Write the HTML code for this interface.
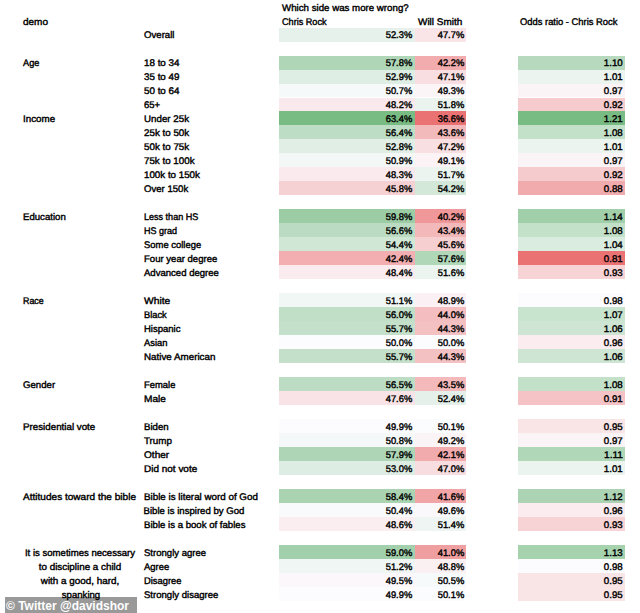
<!DOCTYPE html>
<html><head><meta charset="utf-8"><style>
html,body{margin:0;padding:0;background:#fff;}
body{width:640px;height:613px;position:relative;overflow:hidden;}
.c{position:absolute;height:13.98px;}
.t{position:absolute;font-family:"Liberation Sans",Arial,sans-serif;font-size:9.6px;line-height:13.98px;height:13.98px;padding-top:1.9px;color:#000;-webkit-text-stroke:0.4px #000;white-space:nowrap;text-rendering:geometricPrecision;}
.wm{position:absolute;left:5px;top:596.7px;width:132px;height:16px;background:rgba(0,0,0,0.4);}
.wmt{position:absolute;left:6px;top:597.5px;font-family:"Liberation Sans",Arial,sans-serif;font-weight:bold;font-size:12px;line-height:16px;color:#fff;white-space:nowrap;}
</style></head><body>
<div class="c" style="left:279.0px;width:135.5px;top:27.60px;background:#e5f1ea"></div>
<div class="c" style="left:414.5px;width:51.3px;top:27.60px;background:#f9e4e7"></div>
<div class="c" style="left:279.0px;width:135.5px;top:55.56px;background:#afd6b7"></div>
<div class="c" style="left:414.5px;width:51.3px;top:55.56px;background:#f2acae"></div>
<div class="c" style="left:518.0px;width:106.6px;top:55.56px;background:#b7dabe"></div>
<div class="c" style="left:279.0px;width:135.5px;top:69.54px;background:#dfeee4"></div>
<div class="c" style="left:414.5px;width:51.3px;top:69.54px;background:#f8dee1"></div>
<div class="c" style="left:518.0px;width:106.6px;top:69.54px;background:#ebf4ef"></div>
<div class="c" style="left:279.0px;width:135.5px;top:83.52px;background:#f5f9f9"></div>
<div class="c" style="left:414.5px;width:51.3px;top:83.52px;background:#fbf5f8"></div>
<div class="c" style="left:518.0px;width:106.6px;top:83.52px;background:#fbf4f7"></div>
<div class="c" style="left:279.0px;width:135.5px;top:97.50px;background:#fae9ec"></div>
<div class="c" style="left:414.5px;width:51.3px;top:97.50px;background:#eaf3ee"></div>
<div class="c" style="left:518.0px;width:106.6px;top:97.50px;background:#f6cbce"></div>
<div class="c" style="left:279.0px;width:135.5px;top:111.48px;background:#78bb83"></div>
<div class="c" style="left:414.5px;width:51.3px;top:111.48px;background:#ea7273"></div>
<div class="c" style="left:518.0px;width:106.6px;top:111.48px;background:#78bb83"></div>
<div class="c" style="left:279.0px;width:135.5px;top:125.46px;background:#bdddc4"></div>
<div class="c" style="left:414.5px;width:51.3px;top:125.46px;background:#f3babc"></div>
<div class="c" style="left:518.0px;width:106.6px;top:125.46px;background:#c3e0c9"></div>
<div class="c" style="left:279.0px;width:135.5px;top:139.44px;background:#e0eee5"></div>
<div class="c" style="left:414.5px;width:51.3px;top:139.44px;background:#f8dfe2"></div>
<div class="c" style="left:518.0px;width:106.6px;top:139.44px;background:#ebf4ef"></div>
<div class="c" style="left:279.0px;width:135.5px;top:153.42px;background:#f3f8f7"></div>
<div class="c" style="left:414.5px;width:51.3px;top:153.42px;background:#fbf3f6"></div>
<div class="c" style="left:518.0px;width:106.6px;top:153.42px;background:#fbf4f7"></div>
<div class="c" style="left:279.0px;width:135.5px;top:167.40px;background:#faeaed"></div>
<div class="c" style="left:414.5px;width:51.3px;top:167.40px;background:#ebf4ef"></div>
<div class="c" style="left:518.0px;width:106.6px;top:167.40px;background:#f6cbce"></div>
<div class="c" style="left:279.0px;width:135.5px;top:181.38px;background:#f6d1d3"></div>
<div class="c" style="left:414.5px;width:51.3px;top:181.38px;background:#d3e8d8"></div>
<div class="c" style="left:518.0px;width:106.6px;top:181.38px;background:#f1abad"></div>
<div class="c" style="left:279.0px;width:135.5px;top:209.34px;background:#9bcca4"></div>
<div class="c" style="left:414.5px;width:51.3px;top:209.34px;background:#ef9799"></div>
<div class="c" style="left:518.0px;width:106.6px;top:209.34px;background:#a0cfa9"></div>
<div class="c" style="left:279.0px;width:135.5px;top:223.32px;background:#bbdcc2"></div>
<div class="c" style="left:414.5px;width:51.3px;top:223.32px;background:#f3b8ba"></div>
<div class="c" style="left:518.0px;width:106.6px;top:223.32px;background:#c3e0c9"></div>
<div class="c" style="left:279.0px;width:135.5px;top:237.30px;background:#d1e7d6"></div>
<div class="c" style="left:414.5px;width:51.3px;top:237.30px;background:#f6cfd1"></div>
<div class="c" style="left:518.0px;width:106.6px;top:237.30px;background:#daebdf"></div>
<div class="c" style="left:279.0px;width:135.5px;top:251.28px;background:#f2aeb0"></div>
<div class="c" style="left:414.5px;width:51.3px;top:251.28px;background:#b1d7b9"></div>
<div class="c" style="left:518.0px;width:106.6px;top:251.28px;background:#ea7273"></div>
<div class="c" style="left:279.0px;width:135.5px;top:265.26px;background:#faecee"></div>
<div class="c" style="left:414.5px;width:51.3px;top:265.26px;background:#ecf4f0"></div>
<div class="c" style="left:518.0px;width:106.6px;top:265.26px;background:#f7d3d6"></div>
<div class="c" style="left:279.0px;width:135.5px;top:293.22px;background:#f1f7f5"></div>
<div class="c" style="left:414.5px;width:51.3px;top:293.22px;background:#fbf1f4"></div>
<div class="c" style="left:518.0px;width:106.6px;top:293.22px;background:#fcfcff"></div>
<div class="c" style="left:279.0px;width:135.5px;top:307.20px;background:#c1dfc7"></div>
<div class="c" style="left:414.5px;width:51.3px;top:307.20px;background:#f4bec0"></div>
<div class="c" style="left:518.0px;width:106.6px;top:307.20px;background:#c8e3ce"></div>
<div class="c" style="left:279.0px;width:135.5px;top:321.18px;background:#c4e0ca"></div>
<div class="c" style="left:414.5px;width:51.3px;top:321.18px;background:#f4c1c3"></div>
<div class="c" style="left:518.0px;width:106.6px;top:321.18px;background:#cee5d4"></div>
<div class="c" style="left:279.0px;width:135.5px;top:335.16px;background:#fcfcff"></div>
<div class="c" style="left:414.5px;width:51.3px;top:335.16px;background:#fcfcff"></div>
<div class="c" style="left:518.0px;width:106.6px;top:335.16px;background:#faecef"></div>
<div class="c" style="left:279.0px;width:135.5px;top:349.14px;background:#c4e0ca"></div>
<div class="c" style="left:414.5px;width:51.3px;top:349.14px;background:#f4c1c3"></div>
<div class="c" style="left:518.0px;width:106.6px;top:349.14px;background:#cee5d4"></div>
<div class="c" style="left:279.0px;width:135.5px;top:377.10px;background:#bcdcc3"></div>
<div class="c" style="left:414.5px;width:51.3px;top:377.10px;background:#f3b9bb"></div>
<div class="c" style="left:518.0px;width:106.6px;top:377.10px;background:#c3e0c9"></div>
<div class="c" style="left:279.0px;width:135.5px;top:391.08px;background:#f9e3e6"></div>
<div class="c" style="left:414.5px;width:51.3px;top:391.08px;background:#e4f0e9"></div>
<div class="c" style="left:518.0px;width:106.6px;top:391.08px;background:#f5c3c5"></div>
<div class="c" style="left:279.0px;width:135.5px;top:419.04px;background:#fcfbfe"></div>
<div class="c" style="left:414.5px;width:51.3px;top:419.04px;background:#fbfcfe"></div>
<div class="c" style="left:518.0px;width:106.6px;top:419.04px;background:#f9e4e6"></div>
<div class="c" style="left:279.0px;width:135.5px;top:433.02px;background:#f4f8f8"></div>
<div class="c" style="left:414.5px;width:51.3px;top:433.02px;background:#fbf4f7"></div>
<div class="c" style="left:518.0px;width:106.6px;top:433.02px;background:#fbf4f7"></div>
<div class="c" style="left:279.0px;width:135.5px;top:447.00px;background:#aed6b6"></div>
<div class="c" style="left:414.5px;width:51.3px;top:447.00px;background:#f1abac"></div>
<div class="c" style="left:518.0px;width:106.6px;top:447.00px;background:#b1d7b9"></div>
<div class="c" style="left:279.0px;width:135.5px;top:460.98px;background:#deede3"></div>
<div class="c" style="left:414.5px;width:51.3px;top:460.98px;background:#f8dde0"></div>
<div class="c" style="left:518.0px;width:106.6px;top:460.98px;background:#ebf4ef"></div>
<div class="c" style="left:279.0px;width:135.5px;top:488.94px;background:#a9d3b1"></div>
<div class="c" style="left:414.5px;width:51.3px;top:488.94px;background:#f1a5a7"></div>
<div class="c" style="left:518.0px;width:106.6px;top:488.94px;background:#acd4b4"></div>
<div class="c" style="left:279.0px;width:135.5px;top:502.92px;background:#f8fafb"></div>
<div class="c" style="left:414.5px;width:51.3px;top:502.92px;background:#fbf8fb"></div>
<div class="c" style="left:518.0px;width:106.6px;top:502.92px;background:#faecef"></div>
<div class="c" style="left:279.0px;width:135.5px;top:516.90px;background:#faeef0"></div>
<div class="c" style="left:414.5px;width:51.3px;top:516.90px;background:#eef5f2"></div>
<div class="c" style="left:518.0px;width:106.6px;top:516.90px;background:#f7d3d6"></div>
<div class="c" style="left:279.0px;width:135.5px;top:544.86px;background:#a3d0ac"></div>
<div class="c" style="left:414.5px;width:51.3px;top:544.86px;background:#f09fa1"></div>
<div class="c" style="left:518.0px;width:106.6px;top:544.86px;background:#a6d2ae"></div>
<div class="c" style="left:279.0px;width:135.5px;top:558.84px;background:#f0f6f4"></div>
<div class="c" style="left:414.5px;width:51.3px;top:558.84px;background:#faf0f2"></div>
<div class="c" style="left:518.0px;width:106.6px;top:558.84px;background:#fcfcff"></div>
<div class="c" style="left:279.0px;width:135.5px;top:572.82px;background:#fbf7fa"></div>
<div class="c" style="left:414.5px;width:51.3px;top:572.82px;background:#f7fafa"></div>
<div class="c" style="left:518.0px;width:106.6px;top:572.82px;background:#f9e4e6"></div>
<div class="c" style="left:279.0px;width:135.5px;top:586.80px;background:#fcfbfe"></div>
<div class="c" style="left:414.5px;width:51.3px;top:586.80px;background:#fbfcfe"></div>
<div class="c" style="left:518.0px;width:106.6px;top:586.80px;background:#f9e4e6"></div>
<div class="t" style="left:143.6px;top:27.60px;transform:scale(1.004,1.0);transform-origin:0 11px">Overall</div>
<div class="t" style="right:228.3px;top:27.60px;transform:scale(0.973,1.0);transform-origin:100% 11px">52.3%</div>
<div class="t" style="right:175.4px;top:27.60px;transform:scale(0.973,1.0);transform-origin:100% 11px">47.7%</div>
<div class="t" style="left:23.0px;top:55.56px;transform:scale(0.959,1.0);transform-origin:0 11px">Age</div>
<div class="t" style="left:143.6px;top:55.56px;transform:scale(1.023,1.0);transform-origin:0 11px">18 to 34</div>
<div class="t" style="right:228.3px;top:55.56px;transform:scale(0.973,1.0);transform-origin:100% 11px">57.8%</div>
<div class="t" style="right:175.4px;top:55.56px;transform:scale(0.973,1.0);transform-origin:100% 11px">42.2%</div>
<div class="t" style="right:17.4px;top:55.56px;transform:scale(1.011,1.0);transform-origin:100% 11px">1.10</div>
<div class="t" style="left:143.6px;top:69.54px;transform:scale(1.023,1.0);transform-origin:0 11px">35 to 49</div>
<div class="t" style="right:228.3px;top:69.54px;transform:scale(0.973,1.0);transform-origin:100% 11px">52.9%</div>
<div class="t" style="right:175.4px;top:69.54px;transform:scale(0.973,1.0);transform-origin:100% 11px">47.1%</div>
<div class="t" style="right:17.4px;top:69.54px;transform:scale(1.011,1.0);transform-origin:100% 11px">1.01</div>
<div class="t" style="left:143.6px;top:83.52px;transform:scale(1.023,1.0);transform-origin:0 11px">50 to 64</div>
<div class="t" style="right:228.3px;top:83.52px;transform:scale(0.973,1.0);transform-origin:100% 11px">50.7%</div>
<div class="t" style="right:175.4px;top:83.52px;transform:scale(0.973,1.0);transform-origin:100% 11px">49.3%</div>
<div class="t" style="right:17.4px;top:83.52px;transform:scale(1.011,1.0);transform-origin:100% 11px">0.97</div>
<div class="t" style="left:143.6px;top:97.50px;transform:scale(0.989,1.0);transform-origin:0 11px">65+</div>
<div class="t" style="right:228.3px;top:97.50px;transform:scale(0.973,1.0);transform-origin:100% 11px">48.2%</div>
<div class="t" style="right:175.4px;top:97.50px;transform:scale(0.973,1.0);transform-origin:100% 11px">51.8%</div>
<div class="t" style="right:17.4px;top:97.50px;transform:scale(1.011,1.0);transform-origin:100% 11px">0.92</div>
<div class="t" style="left:23.0px;top:111.48px;transform:scale(1.020,1.0);transform-origin:0 11px">Income</div>
<div class="t" style="left:143.6px;top:111.48px;transform:scale(1.018,1.0);transform-origin:0 11px">Under 25k</div>
<div class="t" style="right:228.3px;top:111.48px;transform:scale(0.973,1.0);transform-origin:100% 11px">63.4%</div>
<div class="t" style="right:175.4px;top:111.48px;transform:scale(0.973,1.0);transform-origin:100% 11px">36.6%</div>
<div class="t" style="right:17.4px;top:111.48px;transform:scale(1.011,1.0);transform-origin:100% 11px">1.21</div>
<div class="t" style="left:143.6px;top:125.46px;transform:scale(1.020,1.0);transform-origin:0 11px">25k to 50k</div>
<div class="t" style="right:228.3px;top:125.46px;transform:scale(0.973,1.0);transform-origin:100% 11px">56.4%</div>
<div class="t" style="right:175.4px;top:125.46px;transform:scale(0.973,1.0);transform-origin:100% 11px">43.6%</div>
<div class="t" style="right:17.4px;top:125.46px;transform:scale(1.011,1.0);transform-origin:100% 11px">1.08</div>
<div class="t" style="left:143.6px;top:139.44px;transform:scale(1.020,1.0);transform-origin:0 11px">50k to 75k</div>
<div class="t" style="right:228.3px;top:139.44px;transform:scale(0.973,1.0);transform-origin:100% 11px">52.8%</div>
<div class="t" style="right:175.4px;top:139.44px;transform:scale(0.973,1.0);transform-origin:100% 11px">47.2%</div>
<div class="t" style="right:17.4px;top:139.44px;transform:scale(1.011,1.0);transform-origin:100% 11px">1.01</div>
<div class="t" style="left:143.6px;top:153.42px;transform:scale(1.019,1.0);transform-origin:0 11px">75k to 100k</div>
<div class="t" style="right:228.3px;top:153.42px;transform:scale(0.973,1.0);transform-origin:100% 11px">50.9%</div>
<div class="t" style="right:175.4px;top:153.42px;transform:scale(0.973,1.0);transform-origin:100% 11px">49.1%</div>
<div class="t" style="right:17.4px;top:153.42px;transform:scale(1.011,1.0);transform-origin:100% 11px">0.97</div>
<div class="t" style="left:143.6px;top:167.40px;transform:scale(1.018,1.0);transform-origin:0 11px">100k to 150k</div>
<div class="t" style="right:228.3px;top:167.40px;transform:scale(0.973,1.0);transform-origin:100% 11px">48.3%</div>
<div class="t" style="right:175.4px;top:167.40px;transform:scale(0.973,1.0);transform-origin:100% 11px">51.7%</div>
<div class="t" style="right:17.4px;top:167.40px;transform:scale(1.011,1.0);transform-origin:100% 11px">0.92</div>
<div class="t" style="left:143.6px;top:181.38px;transform:scale(0.998,1.0);transform-origin:0 11px">Over 150k</div>
<div class="t" style="right:228.3px;top:181.38px;transform:scale(0.973,1.0);transform-origin:100% 11px">45.8%</div>
<div class="t" style="right:175.4px;top:181.38px;transform:scale(0.973,1.0);transform-origin:100% 11px">54.2%</div>
<div class="t" style="right:17.4px;top:181.38px;transform:scale(1.011,1.0);transform-origin:100% 11px">0.88</div>
<div class="t" style="left:23.0px;top:209.34px;transform:scale(1.002,1.0);transform-origin:0 11px">Education</div>
<div class="t" style="left:143.6px;top:209.34px;transform:scale(0.942,1.0);transform-origin:0 11px">Less than HS</div>
<div class="t" style="right:228.3px;top:209.34px;transform:scale(0.973,1.0);transform-origin:100% 11px">59.8%</div>
<div class="t" style="right:175.4px;top:209.34px;transform:scale(0.973,1.0);transform-origin:100% 11px">40.2%</div>
<div class="t" style="right:17.4px;top:209.34px;transform:scale(1.011,1.0);transform-origin:100% 11px">1.14</div>
<div class="t" style="left:143.6px;top:223.32px;transform:scale(0.941,1.0);transform-origin:0 11px">HS grad</div>
<div class="t" style="right:228.3px;top:223.32px;transform:scale(0.973,1.0);transform-origin:100% 11px">56.6%</div>
<div class="t" style="right:175.4px;top:223.32px;transform:scale(0.973,1.0);transform-origin:100% 11px">43.4%</div>
<div class="t" style="right:17.4px;top:223.32px;transform:scale(1.011,1.0);transform-origin:100% 11px">1.08</div>
<div class="t" style="left:143.6px;top:237.30px;transform:scale(0.983,1.0);transform-origin:0 11px">Some college</div>
<div class="t" style="right:228.3px;top:237.30px;transform:scale(0.973,1.0);transform-origin:100% 11px">54.4%</div>
<div class="t" style="right:175.4px;top:237.30px;transform:scale(0.973,1.0);transform-origin:100% 11px">45.6%</div>
<div class="t" style="right:17.4px;top:237.30px;transform:scale(1.011,1.0);transform-origin:100% 11px">1.04</div>
<div class="t" style="left:143.6px;top:251.28px;transform:scale(0.996,1.0);transform-origin:0 11px">Four year degree</div>
<div class="t" style="right:228.3px;top:251.28px;transform:scale(0.973,1.0);transform-origin:100% 11px">42.4%</div>
<div class="t" style="right:175.4px;top:251.28px;transform:scale(0.973,1.0);transform-origin:100% 11px">57.6%</div>
<div class="t" style="right:17.4px;top:251.28px;transform:scale(1.011,1.0);transform-origin:100% 11px">0.81</div>
<div class="t" style="left:143.6px;top:265.26px;transform:scale(0.996,1.0);transform-origin:0 11px">Advanced degree</div>
<div class="t" style="right:228.3px;top:265.26px;transform:scale(0.973,1.0);transform-origin:100% 11px">48.4%</div>
<div class="t" style="right:175.4px;top:265.26px;transform:scale(0.973,1.0);transform-origin:100% 11px">51.6%</div>
<div class="t" style="right:17.4px;top:265.26px;transform:scale(1.011,1.0);transform-origin:100% 11px">0.93</div>
<div class="t" style="left:23.0px;top:293.22px;transform:scale(0.923,1.0);transform-origin:0 11px">Race</div>
<div class="t" style="left:143.6px;top:293.22px;transform:scale(1.070,1.0);transform-origin:0 11px">White</div>
<div class="t" style="right:228.3px;top:293.22px;transform:scale(0.973,1.0);transform-origin:100% 11px">51.1%</div>
<div class="t" style="right:175.4px;top:293.22px;transform:scale(0.973,1.0);transform-origin:100% 11px">48.9%</div>
<div class="t" style="right:17.4px;top:293.22px;transform:scale(1.011,1.0);transform-origin:100% 11px">0.98</div>
<div class="t" style="left:143.6px;top:307.20px;transform:scale(0.966,1.0);transform-origin:0 11px">Black</div>
<div class="t" style="right:228.3px;top:307.20px;transform:scale(0.973,1.0);transform-origin:100% 11px">56.0%</div>
<div class="t" style="right:175.4px;top:307.20px;transform:scale(0.973,1.0);transform-origin:100% 11px">44.0%</div>
<div class="t" style="right:17.4px;top:307.20px;transform:scale(1.011,1.0);transform-origin:100% 11px">1.07</div>
<div class="t" style="left:143.6px;top:321.18px;transform:scale(0.991,1.0);transform-origin:0 11px">Hispanic</div>
<div class="t" style="right:228.3px;top:321.18px;transform:scale(0.973,1.0);transform-origin:100% 11px">55.7%</div>
<div class="t" style="right:175.4px;top:321.18px;transform:scale(0.973,1.0);transform-origin:100% 11px">44.3%</div>
<div class="t" style="right:17.4px;top:321.18px;transform:scale(1.011,1.0);transform-origin:100% 11px">1.06</div>
<div class="t" style="left:143.6px;top:335.16px;transform:scale(0.977,1.0);transform-origin:0 11px">Asian</div>
<div class="t" style="right:228.3px;top:335.16px;transform:scale(0.973,1.0);transform-origin:100% 11px">50.0%</div>
<div class="t" style="right:175.4px;top:335.16px;transform:scale(0.973,1.0);transform-origin:100% 11px">50.0%</div>
<div class="t" style="right:17.4px;top:335.16px;transform:scale(1.011,1.0);transform-origin:100% 11px">0.96</div>
<div class="t" style="left:143.6px;top:349.14px;transform:scale(1.022,1.0);transform-origin:0 11px">Native American</div>
<div class="t" style="right:228.3px;top:349.14px;transform:scale(0.973,1.0);transform-origin:100% 11px">55.7%</div>
<div class="t" style="right:175.4px;top:349.14px;transform:scale(0.973,1.0);transform-origin:100% 11px">44.3%</div>
<div class="t" style="right:17.4px;top:349.14px;transform:scale(1.011,1.0);transform-origin:100% 11px">1.06</div>
<div class="t" style="left:23.0px;top:377.10px;transform:scale(1.006,1.0);transform-origin:0 11px">Gender</div>
<div class="t" style="left:143.6px;top:377.10px;transform:scale(0.981,1.0);transform-origin:0 11px">Female</div>
<div class="t" style="right:228.3px;top:377.10px;transform:scale(0.973,1.0);transform-origin:100% 11px">56.5%</div>
<div class="t" style="right:175.4px;top:377.10px;transform:scale(0.973,1.0);transform-origin:100% 11px">43.5%</div>
<div class="t" style="right:17.4px;top:377.10px;transform:scale(1.011,1.0);transform-origin:100% 11px">1.08</div>
<div class="t" style="left:143.6px;top:391.08px;transform:scale(1.055,1.0);transform-origin:0 11px">Male</div>
<div class="t" style="right:228.3px;top:391.08px;transform:scale(0.973,1.0);transform-origin:100% 11px">47.6%</div>
<div class="t" style="right:175.4px;top:391.08px;transform:scale(0.973,1.0);transform-origin:100% 11px">52.4%</div>
<div class="t" style="right:17.4px;top:391.08px;transform:scale(1.011,1.0);transform-origin:100% 11px">0.91</div>
<div class="t" style="left:23.0px;top:419.04px;transform:scale(1.019,1.0);transform-origin:0 11px">Presidential vote</div>
<div class="t" style="left:143.6px;top:419.04px;transform:scale(1.007,1.0);transform-origin:0 11px">Biden</div>
<div class="t" style="right:228.3px;top:419.04px;transform:scale(0.973,1.0);transform-origin:100% 11px">49.9%</div>
<div class="t" style="right:175.4px;top:419.04px;transform:scale(0.973,1.0);transform-origin:100% 11px">50.1%</div>
<div class="t" style="right:17.4px;top:419.04px;transform:scale(1.011,1.0);transform-origin:100% 11px">0.95</div>
<div class="t" style="left:143.6px;top:433.02px;transform:scale(1.020,1.0);transform-origin:0 11px">Trump</div>
<div class="t" style="right:228.3px;top:433.02px;transform:scale(0.973,1.0);transform-origin:100% 11px">50.8%</div>
<div class="t" style="right:175.4px;top:433.02px;transform:scale(0.973,1.0);transform-origin:100% 11px">49.2%</div>
<div class="t" style="right:17.4px;top:433.02px;transform:scale(1.011,1.0);transform-origin:100% 11px">0.97</div>
<div class="t" style="left:143.6px;top:447.00px;transform:scale(1.051,1.0);transform-origin:0 11px">Other</div>
<div class="t" style="right:228.3px;top:447.00px;transform:scale(0.973,1.0);transform-origin:100% 11px">57.9%</div>
<div class="t" style="right:175.4px;top:447.00px;transform:scale(0.973,1.0);transform-origin:100% 11px">42.1%</div>
<div class="t" style="right:17.4px;top:447.00px;transform:scale(1.051,1.0);transform-origin:100% 11px">1.11</div>
<div class="t" style="left:143.6px;top:460.98px;transform:scale(1.040,1.0);transform-origin:0 11px">Did not vote</div>
<div class="t" style="right:228.3px;top:460.98px;transform:scale(0.973,1.0);transform-origin:100% 11px">53.0%</div>
<div class="t" style="right:175.4px;top:460.98px;transform:scale(0.973,1.0);transform-origin:100% 11px">47.0%</div>
<div class="t" style="right:17.4px;top:460.98px;transform:scale(1.011,1.0);transform-origin:100% 11px">1.01</div>
<div class="t" style="left:23.0px;top:488.94px;transform:scale(1.049,1.0);transform-origin:0 11px">Attitudes toward the bible</div>
<div class="t" style="left:143.6px;top:488.94px;transform:scale(1.022,1.0);transform-origin:0 11px">Bible is literal word of God</div>
<div class="t" style="right:228.3px;top:488.94px;transform:scale(0.973,1.0);transform-origin:100% 11px">58.4%</div>
<div class="t" style="right:175.4px;top:488.94px;transform:scale(0.973,1.0);transform-origin:100% 11px">41.6%</div>
<div class="t" style="right:17.4px;top:488.94px;transform:scale(1.011,1.0);transform-origin:100% 11px">1.12</div>
<div class="t" style="left:143.6px;top:502.92px;transform:scale(1.000,1.0);transform-origin:0 11px">Bible is inspired by God</div>
<div class="t" style="right:228.3px;top:502.92px;transform:scale(0.973,1.0);transform-origin:100% 11px">50.4%</div>
<div class="t" style="right:175.4px;top:502.92px;transform:scale(0.973,1.0);transform-origin:100% 11px">49.6%</div>
<div class="t" style="right:17.4px;top:502.92px;transform:scale(1.011,1.0);transform-origin:100% 11px">0.96</div>
<div class="t" style="left:143.6px;top:516.90px;transform:scale(1.001,1.0);transform-origin:0 11px">Bible is a book of fables</div>
<div class="t" style="right:228.3px;top:516.90px;transform:scale(0.973,1.0);transform-origin:100% 11px">48.6%</div>
<div class="t" style="right:175.4px;top:516.90px;transform:scale(0.973,1.0);transform-origin:100% 11px">51.4%</div>
<div class="t" style="right:17.4px;top:516.90px;transform:scale(1.011,1.0);transform-origin:100% 11px">0.93</div>
<div class="t" style="left:143.6px;top:544.86px;transform:scale(0.996,1.0);transform-origin:0 11px">Strongly agree</div>
<div class="t" style="right:228.3px;top:544.86px;transform:scale(0.973,1.0);transform-origin:100% 11px">59.0%</div>
<div class="t" style="right:175.4px;top:544.86px;transform:scale(0.973,1.0);transform-origin:100% 11px">41.0%</div>
<div class="t" style="right:17.4px;top:544.86px;transform:scale(1.011,1.0);transform-origin:100% 11px">1.13</div>
<div class="t" style="left:143.6px;top:558.84px;transform:scale(0.989,1.0);transform-origin:0 11px">Agree</div>
<div class="t" style="right:228.3px;top:558.84px;transform:scale(0.973,1.0);transform-origin:100% 11px">51.2%</div>
<div class="t" style="right:175.4px;top:558.84px;transform:scale(0.973,1.0);transform-origin:100% 11px">48.8%</div>
<div class="t" style="right:17.4px;top:558.84px;transform:scale(1.011,1.0);transform-origin:100% 11px">0.98</div>
<div class="t" style="left:143.6px;top:572.82px;transform:scale(0.975,1.0);transform-origin:0 11px">Disagree</div>
<div class="t" style="right:228.3px;top:572.82px;transform:scale(0.973,1.0);transform-origin:100% 11px">49.5%</div>
<div class="t" style="right:175.4px;top:572.82px;transform:scale(0.973,1.0);transform-origin:100% 11px">50.5%</div>
<div class="t" style="right:17.4px;top:572.82px;transform:scale(1.011,1.0);transform-origin:100% 11px">0.95</div>
<div class="t" style="left:143.6px;top:586.80px;transform:scale(0.996,1.0);transform-origin:0 11px">Strongly disagree</div>
<div class="t" style="right:228.3px;top:586.80px;transform:scale(0.973,1.0);transform-origin:100% 11px">49.9%</div>
<div class="t" style="right:175.4px;top:586.80px;transform:scale(0.973,1.0);transform-origin:100% 11px">50.1%</div>
<div class="t" style="right:17.4px;top:586.80px;transform:scale(1.011,1.0);transform-origin:100% 11px">0.95</div>
<div class="t" style="left:281.6px;top:-0.36px;transform:scale(1.011,1.0);transform-origin:0 11px">Which side was more wrong?</div>
<div class="t" style="left:281.6px;top:13.62px;transform:scale(0.949,1.0);transform-origin:0 11px">Chris Rock</div>
<div class="t" style="left:417.8px;top:13.62px;transform:scale(1.036,1.0);transform-origin:0 11px">Will Smith</div>
<div class="t" style="left:520.2px;top:13.62px;transform:scale(0.977,1.0);transform-origin:0 11px">Odds ratio - Chris Rock</div>
<div class="t" style="left:23.0px;top:13.62px;transform:scale(1.042,1.0);transform-origin:0 11px">demo</div>
<div class="t" style="left:-20.0px;width:200px;text-align:center;top:544.86px;transform:scale(0.998,1.0);transform-origin:50% 11px">It is sometimes necessary</div>
<div class="t" style="left:-20.0px;width:200px;text-align:center;top:558.84px;transform:scale(1.024,1.0);transform-origin:50% 11px">to discipline a child</div>
<div class="t" style="left:-20.4px;width:200px;text-align:center;top:572.82px;transform:scale(1.028,1.0);transform-origin:50% 11px">with a good, hard,</div>
<div class="t" style="left:-18.7px;width:200px;text-align:center;top:586.80px;transform:scale(0.998,1.0);transform-origin:50% 11px">spanking</div>
<div class="wm"></div>
<div class="wmt">&copy; Twitter @davidshor</div>
</body></html>
